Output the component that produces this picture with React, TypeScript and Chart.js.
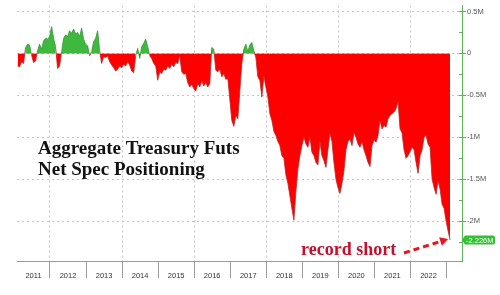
import React, { useEffect, useRef } from "react";
import { Chart, registerables } from "chart.js";

Chart.register(...registerables);

// Net speculative positioning, aggregate Treasury futures (millions of contracts)
const START_YEAR = 2011.1;
const STEP_YEARS = 1 / 18;
const NET_POSITION = [
  -0.15, -0.16, -0.1, -0.12, 0.07, 0.11, 0.1, -0.02, -0.11, -0.09,
  0.03, 0.11, 0.05, 0.15, 0.18, 0.17, 0.2, 0.32, 0.18, 0.08,
  -0.18, -0.15, 0.02, 0.18, 0.22, 0.2, 0.27, 0.24, 0.29, 0.23,
  0.25, 0.2, 0.3, 0.17, 0.11, 0.09, -0.03, 0.02, 0.14, 0.18,
  0.27, 0.03, -0.12, -0.04, -0.05, -0.03, -0.1, -0.14, -0.17, -0.21,
  -0.19, -0.15, -0.17, -0.13, -0.15, -0.1, -0.14, -0.21, -0.23, -0.03,
  0.06, -0.06, 0.08, 0.12, 0.17, 0.08, -0.03, -0.06, -0.12, -0.15,
  -0.32, -0.22, -0.24, -0.19, -0.2, -0.15, -0.18, -0.13, -0.16, -0.11,
  -0.12, -0.03, -0.22, -0.25, -0.24, -0.35, -0.4, -0.37, -0.42, -0.45,
  -0.36, -0.4, -0.33, -0.39, -0.35, -0.4, -0.36, 0.07, 0.05, -0.2,
  -0.22, -0.19, -0.28, -0.24, -0.31, -0.3, -0.55, -0.8, -0.87, -0.74,
  -0.78, -0.45, -0.12, 0.05, 0.11, 0.02, 0.1, 0.13, 0.03, -0.05,
  -0.28, -0.32, -0.52, -0.27, -0.4, -0.52, -0.72, -0.8, -0.93, -0.98,
  -1.05, -1.1, -1.22, -1.25, -1.45, -1.55, -1.7, -1.85, -1.99, -1.65,
  -1.38, -1.22, -1.1, -1.0, -1.08, -1.12, -1.0, -1.18, -1.22, -1.3,
  -1.33, -1.05, -1.22, -1.28, -1.36, -1.15, -0.95, -1.05, -1.3, -1.5,
  -1.6, -1.67, -1.55, -1.4, -1.15, -1.05, -1.02, -1.1, -0.94, -1.0,
  -1.08, -1.12, -1.05, -1.15, -1.22, -1.3, -1.35, -1.1, -1.03, -1.06,
  -0.98, -0.8, -0.9, -0.86, -0.88, -0.78, -0.74, -0.72, -0.7, -0.66,
  -0.57, -0.9, -0.95, -1.15, -1.25, -1.22, -1.17, -1.12, -1.15, -1.3,
  -1.43, -1.22, -1.15, -1.0, -0.98, -1.08, -1.12, -1.5, -1.6, -1.68,
  -1.52, -1.62, -1.8, -1.85, -2.0, -2.12, -2.226,
];

const YEAR_LABELS = ["2011", "2012", "2013", "2014", "2015", "2016", "2017", "2018", "2019", "2020", "2021", "2022"];
const Y_TICKS = [0.5, 0.25, 0, -0.25, -0.5, -0.75, -1, -1.25, -1.5, -1.75, -2, -2.25];
const X_MIN = 2011.085;
const X_MAX = 2023.43;
const Y_MIN = -2.476;
const Y_MAX = 0.571;

const TITLE_LINES = ["Aggregate Treasury Futs", "Net Spec Positioning"];
const NOTE = "record short";

const RED = "#ff0000";
const GREEN = "#3fb83f";
const AXIS_GREEN = "#5fb35f";

const isMajor = (v: number) => Math.abs(v * 2 - Math.round(v * 2)) < 1e-9;
const fmtM = (v: number) => (v === 0 ? "0" : `${v}M`);

const annotations = {
  id: "annotations",
  afterDatasetsDraw(chart: any) {
    const { ctx, scales } = chart;
    const ys = scales.y;
    const xs = scales.x;
    ctx.save();
    // title
    ctx.fillStyle = "#111";
    ctx.font = 'bold 19px "Liberation Serif", "Times New Roman", serif';
    ctx.textBaseline = "alphabetic";
    ctx.textAlign = "left";
    ctx.fillText(TITLE_LINES[0], 38, 154);
    ctx.fillText(TITLE_LINES[1], 38, 175);
    // record short
    ctx.fillStyle = "#c0122f";
    ctx.font = 'bold 18px "Liberation Serif", "Times New Roman", serif';
    ctx.fillText(NOTE, 301, 255);

    const last = NET_POSITION[NET_POSITION.length - 1];
    const lastX = xs.getPixelForValue(START_YEAR + (NET_POSITION.length - 1) * STEP_YEARS);
    const lastY = ys.getPixelForValue(last);
    // dashed arrow
    const x0 = 404, y0 = 253;
    const tx = lastX - 2, ty = lastY - 1;
    const ang = Math.atan2(ty - y0, tx - x0);
    const hx = tx - 8 * Math.cos(ang), hy = ty - 8 * Math.sin(ang);
    ctx.strokeStyle = "#e8141e";
    ctx.lineWidth = 3;
    ctx.setLineDash([6, 4]);
    ctx.beginPath();
    ctx.moveTo(x0, y0);
    ctx.lineTo(hx, hy);
    ctx.stroke();
    ctx.setLineDash([]);
    ctx.fillStyle = "#e8141e";
    ctx.beginPath();
    ctx.moveTo(tx, ty);
    ctx.lineTo(hx + 4.5 * Math.sin(ang), hy - 4.5 * Math.cos(ang));
    ctx.lineTo(hx - 4.5 * Math.sin(ang), hy + 4.5 * Math.cos(ang));
    ctx.closePath();
    ctx.fill();

    // inner tick marks on the right axis
    const ax = ys.left;
    ctx.strokeStyle = AXIS_GREEN;
    ctx.lineWidth = 1;
    for (const v of Y_TICKS) {
      const py = Math.round(ys.getPixelForValue(v)) + 0.5;
      ctx.beginPath();
      ctx.moveTo(ax - 3, py);
      ctx.lineTo(ax, py);
      ctx.stroke();
    }
    // last value label
    const bx = ax + 3, bw = 30, bh = 9;
    const by = lastY - bh / 2;
    ctx.fillStyle = "#33c133";
    ctx.beginPath();
    ctx.moveTo(ax, lastY);
    ctx.lineTo(bx, by);
    ctx.lineTo(bx + bw - 2, by);
    ctx.quadraticCurveTo(bx + bw, by, bx + bw, by + 2);
    ctx.lineTo(bx + bw, by + bh - 2);
    ctx.quadraticCurveTo(bx + bw, by + bh, bx + bw - 2, by + bh);
    ctx.lineTo(bx, by + bh);
    ctx.closePath();
    ctx.fill();
    ctx.fillStyle = "#f4fff4";
    ctx.font = '7.5px "Liberation Sans", Arial, sans-serif';
    ctx.textBaseline = "middle";
    ctx.textAlign = "left";
    ctx.fillText(fmtM(last), bx + 1, lastY + 0.5);
    ctx.restore();
  },
};

export default function App() {
  const ref = useRef<HTMLCanvasElement | null>(null);
  useEffect(() => {
    if (!ref.current) return;
    const points = NET_POSITION.map((v, i) => ({ x: START_YEAR + i * STEP_YEARS, y: v }));
    const xTicks: number[] = [];
    YEAR_LABELS.forEach((_, i) => {
      const y0 = 2011 + i;
      const lo = Math.max(y0, X_MIN);
      xTicks.push((lo + y0 + 1) / 2);
      xTicks.push(y0 + 1);
    });
    const chart = new Chart(ref.current, {
      type: "line",
      data: {
        datasets: [
          {
            data: points,
            borderWidth: 0.8,
            pointRadius: 0,
            tension: 0,
            segment: {
              borderColor: (c: any) => (c.p0.parsed.y + c.p1.parsed.y < 0 ? "#b42a2a" : "#2e9a2e"),
            },
            fill: { target: { value: 0 }, above: GREEN, below: RED },
          } as any,
        ],
      },
      options: {
        animation: false,
        responsive: false,
        devicePixelRatio: 1,
        layout: { padding: { left: 17, top: 5, right: 0, bottom: 0 } },
        plugins: { legend: { display: false }, tooltip: { enabled: false }, title: { display: false } },
        scales: {
          x: {
            type: "linear",
            position: "bottom",
            min: X_MIN,
            max: X_MAX,
            afterBuildTicks: (s: any) => {
              s.ticks = xTicks.map((v) => ({ value: v }));
            },
            afterFit: (s: any) => {
              s.height = 34;
            },
            grid: {
              color: (c: any) => {
                const v = c.tick && c.tick.value;
                return Number.isInteger(v) && v % 2 === 0 ? "#c4c4c4" : "rgba(0,0,0,0)";
              },
              tickColor: (c: any) => {
                const v = c.tick && c.tick.value;
                return Number.isInteger(v) ? "#9a9a9a" : "rgba(0,0,0,0)";
              },
              tickLength: 17,
              lineWidth: 1,
            },
            border: { color: "#9a9a9a", dash: [2, 3] },
            ticks: {
              autoSkip: false,
              maxRotation: 0,
              padding: -7,
              color: "#333",
              font: { family: '"Liberation Sans", Arial, sans-serif', size: 7.5 },
              callback: (v: any) => {
                const n = Number(v);
                if (Number.isInteger(n)) return "";
                return String(Math.floor(n));
              },
            },
          },
          y: {
            type: "linear",
            position: "right",
            min: Y_MIN,
            max: Y_MAX,
            afterBuildTicks: (s: any) => {
              s.ticks = Y_TICKS.map((v) => ({ value: v }));
            },
            afterFit: (s: any) => {
              s.width = 38;
            },
            grid: {
              color: (c: any) => (c.tick && isMajor(c.tick.value) ? "#c4c4c4" : "rgba(0,0,0,0)"),
              tickColor: (c: any) => (c.tick && isMajor(c.tick.value) ? AXIS_GREEN : "rgba(0,0,0,0)"),
              tickLength: 4,
            },
            border: { color: AXIS_GREEN, dash: [2, 3] },
            ticks: {
              padding: 1,
              color: "#555",
              font: { family: '"Liberation Sans", Arial, sans-serif', size: 7.5 },
              callback: (v: any) => (isMajor(Number(v)) ? fmtM(Number(v)) : ""),
            },
          },
        },
      },
      plugins: [annotations],
    });
    return () => chart.destroy();
  }, []);
  return (
    <div style={{ position: "absolute", left: 0, top: 0, width: 500, height: 295, background: "#fff" }}>
      <canvas ref={ref} width={500} height={295} style={{ width: 500, height: 295, display: "block" }} />
    </div>
  );
}
